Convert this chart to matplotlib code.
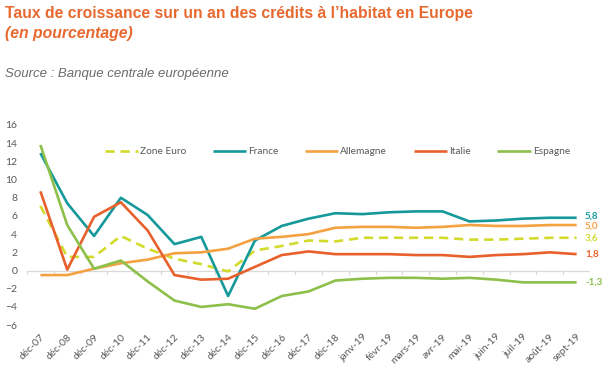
import matplotlib
matplotlib.use("Agg")
import matplotlib.pyplot as plt
import numpy as np

# Catégories (fin de période) et séries en %
mois = ["déc-07", "déc-08", "déc-09", "déc-10", "déc-11", "déc-12", "déc-13",
        "déc-14", "déc-15", "déc-16", "déc-17", "déc-18", "janv-19", "févr-19",
        "mars-19", "avr-19", "mai-19", "juin-19", "juil-19", "août-19", "sept-19"]
zone_euro = [7.1, 1.5, 1.5, 3.8, 2.4, 1.3, 0.7, -0.1, 2.2, 2.7, 3.3, 3.2,
             3.6, 3.6, 3.6, 3.6, 3.4, 3.4, 3.5, 3.6, 3.6]
france = [12.9, 7.4, 3.8, 8.0, 6.1, 2.9, 3.7, -2.8, 3.3, 4.9, 5.7, 6.3,
          6.2, 6.4, 6.5, 6.5, 5.4, 5.5, 5.7, 5.8, 5.8]
allemagne = [-0.5, -0.5, 0.2, 0.8, 1.2, 1.9, 2.0, 2.4, 3.5, 3.7, 4.0, 4.7,
             4.8, 4.8, 4.7, 4.8, 5.0, 4.9, 4.9, 5.0, 5.0]
italie = [8.7, 0.1, 5.9, 7.5, 4.4, -0.5, -1.0, -0.9, 0.4, 1.7, 2.1, 1.8,
          1.8, 1.8, 1.7, 1.7, 1.5, 1.7, 1.8, 2.0, 1.8]
espagne = [13.8, 5.0, 0.2, 1.1, -1.2, -3.3, -4.0, -3.7, -4.2, -2.8, -2.3, -1.1,
           -0.9, -0.8, -0.8, -0.9, -0.8, -1.0, -1.3, -1.3, -1.3]
# étiquettes de fin de série (ordre des séries ci-dessous)
derniers = ["3,6", "5,8", "5,0", "1,8", "-1,3"]

ORANGE = "#E8692F"
GRIS = "#595959"
series = [
    ("Zone Euro", zone_euro, "#D2DB2C", (0, (3.5, 2.2))),
    ("France", france, "#16999A", "-"),
    ("Allemagne", allemagne, "#F4A142", "-"),
    ("Italie", italie, "#E8602C", "-"),
    ("Espagne", espagne, "#8DC04A", "-"),
]
decalage = [0, 1.2, -0.6, 0, 0]   # petit décalage vertical (points) pour éviter le chevauchement

fig = plt.figure(figsize=(6.14, 3.88), dpi=100)
fig.text(0.008, 0.966, "Taux de croissance sur un an des crédits à l’habitat en Europe",
         color=ORANGE, fontsize=11.3, fontweight="bold", family="Liberation Sans", va="center")
fig.text(0.008, 0.914, "(en pourcentage)", color=ORANGE, fontsize=11.3, fontweight="bold",
         style="italic", family="Liberation Sans", va="center")
fig.text(0.008, 0.81, "Source : Banque centrale européenne", color="#6b6b6b", fontsize=9.5,
         style="italic", family="Liberation Sans", va="center")

ax = fig.add_axes([0.044, 0.162, 0.917, 0.516])
x = np.arange(len(mois))
handles = []
for (nom, vals, col, ls), lab, dy in zip(series, derniers, decalage):
    h, = ax.plot(x, vals, color=col, lw=1.9, ls=ls, label=nom, solid_capstyle="butt")
    handles.append(h)
    ax.annotate(lab, (x[-1], vals[-1]), xytext=(6, dy), textcoords="offset points",
                color=col, fontsize=7, fontweight="bold", va="center", family="Lato")

ax.set_xlim(-0.5, len(mois) - 0.5)
ax.set_ylim(-6, 16)
ax.set_yticks(np.arange(-6, 17, 2))
for s in ax.spines.values():
    s.set_visible(False)
ax.tick_params(axis="y", length=0, labelsize=7.5, labelcolor=GRIS, pad=7)
ax.tick_params(axis="x", length=0, labelsize=7.5, labelcolor=GRIS, pad=5)
ax.set_xticks(x)
ax.set_xticklabels(mois, rotation=45, ha="right", rotation_mode="anchor")
for t in ax.get_xticklabels() + ax.get_yticklabels():
    t.set_family("Lato")

# axe horizontal à zéro avec graduations entre catégories
ax.axhline(0, color="#d9d9d9", lw=0.9, zorder=0)
for xv in np.arange(-0.5, len(mois), 1.0):
    ax.plot([xv, xv], [0, -0.35], color="#d9d9d9", lw=0.9, zorder=0)

leg = ax.legend(handles=handles, loc="upper center", bbox_to_anchor=(0.551, 0.935), ncol=5,
                frameon=False, handlelength=3.3, handletextpad=0.2,
                columnspacing=2.6, prop={"family": "Lato", "size": 7.3})
for t in leg.get_texts():
    t.set_color(GRIS)

fig.savefig("out.png", dpi=100)
